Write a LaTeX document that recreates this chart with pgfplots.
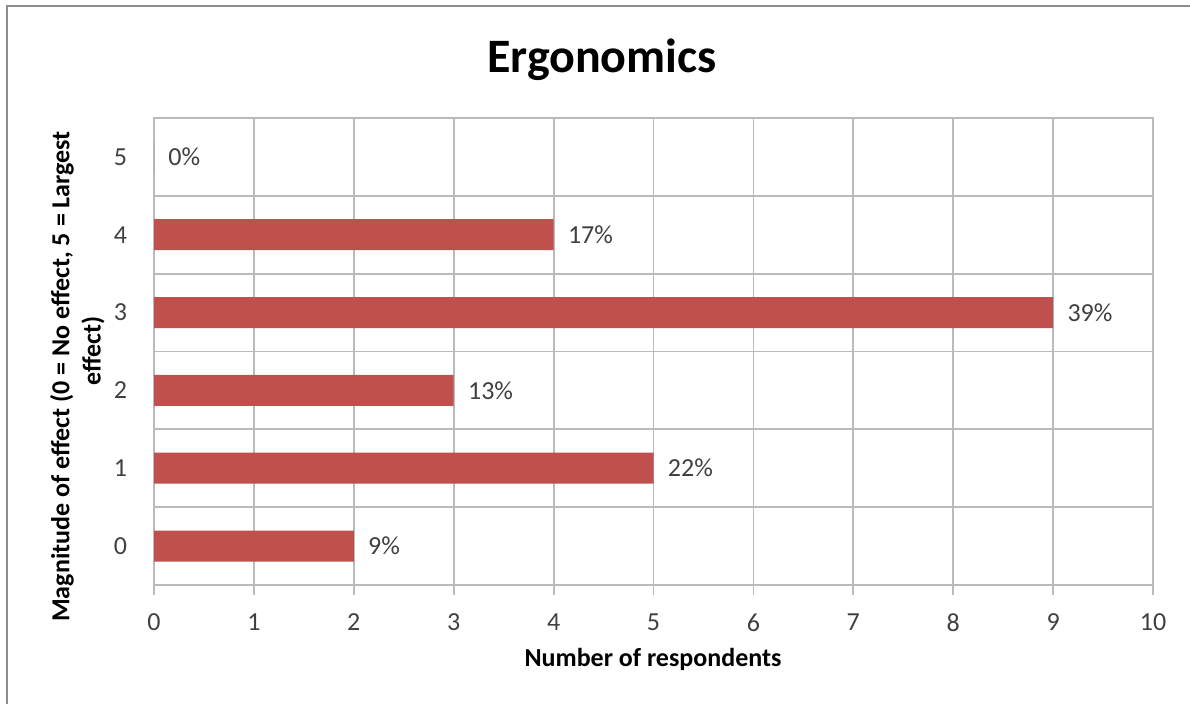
\documentclass[border=0pt]{standalone}
\usepackage{fontspec}
\setmainfont{Carlito}
\usepackage{pgfplots}
\pgfplotsset{compat=1.18}
\definecolor{barred}{HTML}{C0504D}
\definecolor{gridgray}{HTML}{BABABA}
\definecolor{txtgray}{HTML}{404040}
\definecolor{framegray}{HTML}{8C8C8C}
\begin{document}
\begin{tikzpicture}
\begin{scope}[x=0.5pt,y=0.5pt]
\path[use as bounding box] (0,0) rectangle (1190,704);
\draw[framegray, line width=1pt] (7,0) -- (7,698) -- (1190,698);
\end{scope}
\begin{axis}[
  at={(77pt,59.5pt)}, anchor=south west,
  scale only axis, width=499.5pt, height=233.5pt,
  xmin=0, xmax=10, ymin=-0.5, ymax=5.5,
  xtick={0,...,10}, ytick={0,...,5},
  minor ytick={-0.5,0.5,...,5.5},
  xmajorgrids, yminorgrids, ymajorgrids=false,
  grid style={gridgray, line width=0.9pt},
  minor grid style={gridgray, line width=0.9pt},
  axis line style={gridgray, line width=0.9pt},
  xtick pos=bottom, ytick pos=left,
  tick align=outside,
  major tick length=5pt,
  minor tick length=0pt,
  xtick style={gridgray, line width=0.9pt},
  ytick style={draw=none},
  /pgf/number format/assume math mode=true,
  ticklabel style={font=\fontsize{13}{13}\selectfont, text=txtgray},
  xticklabel style={yshift=-6pt},
  yticklabel style={xshift=-5pt},
  xbar, bar width=15.5pt,
  point meta=explicit,
  nodes near coords={\pgfmathprintnumber{\pgfplotspointmeta}\%},
  every node near coord/.append style={anchor=west, inner sep=0pt, xshift=7pt,
     font=\fontsize{13}{13}\selectfont, text=txtgray},
]
\addplot[fill=barred, draw=none] coordinates {
  (2,0) [9]
  (5,1) [22]
  (3,2) [13]
  (9,3) [39]
  (4,4) [17]
  (0,5) [0]
};
\end{axis}
\begin{scope}[x=0.5pt,y=0.5pt]
\node[anchor=base, font=\fontsize{24}{24}\selectfont\bfseries] at (602,631) {Ergonomics};
\node[anchor=base, font=\fontsize{13}{13}\selectfont\bfseries] at (653,37) {Number of respondents};
\node[rotate=90, font=\fontsize{13}{13}\selectfont\bfseries] at (62,327.5) {Magnitude of effect (0 = No effect, 5 = Largest};
\node[rotate=90, font=\fontsize{13}{13}\selectfont\bfseries] at (93,353) {effect)};
\end{scope}
\end{tikzpicture}
\end{document}
